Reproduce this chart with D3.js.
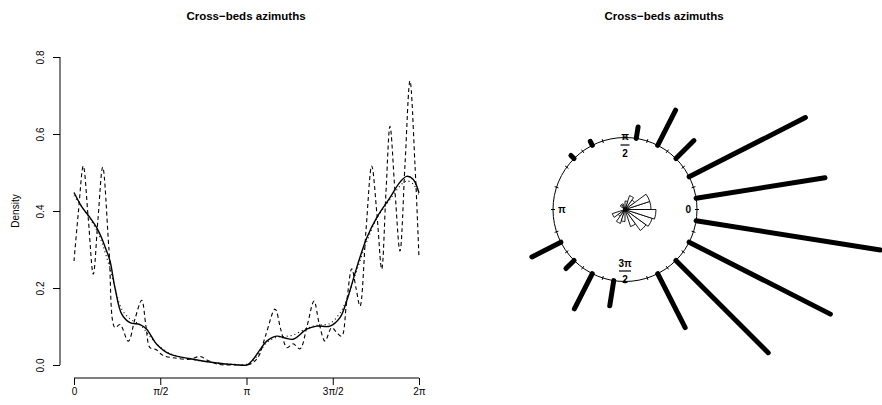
<!DOCTYPE html>
<html><head><meta charset="utf-8">
<script src="https://cdn.jsdelivr.net/npm/d3@7"></script>
<style>
body{margin:0;background:#fff}
text{font-family:"Liberation Sans",Arial,Helvetica,sans-serif;fill:#000}
</style>
</head><body>
<svg id="c" width="882" height="405"></svg>
<script>
const PI = Math.PI;
const chartTitle = "Cross\u2212beds azimuths";

// ---- left panel: kernel density estimates (angles in radians) ----
const dashedAngles = [0.000,0.082,0.169,0.260,0.351,0.437,0.523,0.637,0.747,0.838,0.989,1.111,1.233,1.311,1.384,1.493,1.621,1.839,2.113,2.295,2.440,2.623,2.932,3.205,3.351,3.497,3.661,3.770,3.879,3.989,4.116,4.243,4.371,4.462,4.571,4.693,4.781,4.875,4.963,5.058,5.136,5.209,5.318,5.422,5.518,5.604,5.682,5.755,5.846,5.937,6.028,6.119,6.210,6.283];
const dashedDensity = [0.270,0.400,0.517,0.380,0.236,0.380,0.514,0.300,0.097,0.105,0.062,0.120,0.168,0.100,0.045,0.040,0.025,0.018,0.015,0.022,0.012,0.002,0.000,0.002,0.020,0.080,0.145,0.090,0.045,0.055,0.042,0.100,0.166,0.110,0.062,0.097,0.085,0.075,0.160,0.250,0.200,0.153,0.350,0.517,0.390,0.249,0.450,0.620,0.450,0.296,0.520,0.738,0.520,0.279];

const smoothAngles = [0,0.146,0.291,0.413,0.504,0.583,0.656,0.747,0.869,1.020,1.202,1.324,1.506,1.748,2.167,2.568,2.932,3.151,3.265,3.388,3.510,3.692,3.843,3.994,4.238,4.420,4.662,4.844,4.966,5.149,5.331,5.513,5.755,5.937,6.059,6.179,6.283];
const solidDensity = [0.448,0.410,0.383,0.357,0.330,0.300,0.270,0.200,0.132,0.110,0.105,0.093,0.054,0.028,0.015,0.006,0.001,0.000,0.015,0.040,0.062,0.075,0.070,0.067,0.093,0.101,0.101,0.123,0.166,0.253,0.330,0.383,0.435,0.475,0.490,0.482,0.447];
const dottedDensity = [0.440,0.410,0.380,0.350,0.320,0.285,0.250,0.200,0.145,0.120,0.105,0.085,0.055,0.030,0.014,0.006,0.002,0.002,0.012,0.035,0.058,0.072,0.074,0.078,0.095,0.103,0.108,0.135,0.170,0.245,0.320,0.380,0.430,0.465,0.478,0.470,0.440];

const yTicks = [0, 0.2, 0.4, 0.6, 0.8];
const xTicks = [0, PI/2, PI, 3*PI/2, 2*PI];
const xTickLabels = ["0", "\u03c0/2", "\u03c0", "3\u03c0/2", "2\u03c0"];

// ---- right panel: stacked counts per 18-degree bin (bin centres in degrees) ----
const binCenters = [9,27,45,63,81,117,135,207,225,243,261,297,315,333,351];
const binCounts  = [19,19,4,6,2,1,1,5,2,6,4,9,19,23,27];
const binWidthDeg = 18;
const circleTickDeg = d3.range(0, 360, 18);

const svg = d3.select("#c");

// ================= LEFT PANEL =================
const x = d3.scaleLinear().domain([0, 2*PI]).range([74, 419]);
const y = d3.scaleLinear().domain([0, 0.8]).range([365, 57]);
const axisY = 378, axisX = 60;

svg.append("text").attr("x", 246).attr("y", 20).attr("text-anchor","middle")
  .attr("font-size", 11.5).attr("font-weight","bold").text(chartTitle);

// y axis
const gy = svg.append("g").attr("transform", `translate(${axisX},0)`)
  .call(d3.axisLeft(y).tickValues(yTicks).tickSize(7).tickSizeOuter(0).tickFormat(d3.format(".1f")));
gy.select(".domain").remove();
gy.append("line").attr("x1",0).attr("x2",0).attr("y1",y(yTicks[0])).attr("y2",y(yTicks[yTicks.length-1])).attr("stroke","#000");
gy.selectAll(".tick line").attr("stroke","#000");
gy.selectAll(".tick text").attr("font-size",10).attr("font-family","Liberation Sans, Arial, sans-serif")
  .attr("fill","#000").attr("text-anchor","middle").attr("dy",null)
  .attr("transform","rotate(-90)").attr("x",0).attr("y",-16);
svg.append("text").attr("transform",`translate(19,${(y(0)+y(0.8))/2}) rotate(-90)`)
  .attr("text-anchor","middle").attr("font-size",10).text("Density");

// x axis
const gx = svg.append("g").attr("transform", `translate(0,${axisY})`)
  .call(d3.axisBottom(x).tickValues(xTicks).tickSize(7).tickSizeOuter(0).tickFormat((d,i)=>xTickLabels[i]));
gx.select(".domain").remove();
gx.append("line").attr("x1",x(0)).attr("x2",x(2*PI)).attr("y1",0).attr("y2",0).attr("stroke","#000");
gx.selectAll(".tick line").attr("stroke","#000");
gx.selectAll(".tick text").attr("font-size",10).attr("font-family","Liberation Sans, Arial, sans-serif")
  .attr("fill","#000").attr("y",17).attr("dy",null);

const line = d3.line().x(d=>x(d[0])).y(d=>y(d[1])).curve(d3.curveCatmullRom.alpha(0.5));
svg.append("path").datum(dashedAngles.map((a,i)=>[a,dashedDensity[i]]))
  .attr("d",line).attr("fill","none").attr("stroke","#000").attr("stroke-width",1.1).attr("stroke-dasharray","4,3");
svg.append("path").datum(smoothAngles.map((a,i)=>[a,dottedDensity[i]]))
  .attr("d",line).attr("fill","none").attr("stroke","#000").attr("stroke-width",1.1).attr("stroke-dasharray","1,3");
svg.append("path").datum(smoothAngles.map((a,i)=>[a,solidDensity[i]]))
  .attr("d",line).attr("fill","none").attr("stroke","#000").attr("stroke-width",1.4);

// ================= RIGHT PANEL =================
const cx = 625, cy = 209.5, R = 72;
svg.append("text").attr("x", 664).attr("y", 20).attr("text-anchor","middle")
  .attr("font-size", 11.5).attr("font-weight","bold").text(chartTitle);

const g = svg.append("g").attr("transform",`translate(${cx},${cy})`);
const toRad = d3.scaleLinear().domain([0,360]).range([0,2*PI]);
const px = (deg,r)=> r*Math.cos(toRad(deg));
const py = (deg,r)=> -r*Math.sin(toRad(deg));

g.append("circle").attr("r",R).attr("fill","none").attr("stroke","#000").attr("stroke-width",1);
g.selectAll("line.tick").data(circleTickDeg).enter().append("line")
  .attr("x1",d=>px(d,R-2)).attr("y1",d=>py(d,R-2)).attr("x2",d=>px(d,R+2)).attr("y2",d=>py(d,R+2))
  .attr("stroke","#000").attr("stroke-width",1);

// stacked spikes
const stack = d3.scaleLinear().domain([0,1]).range([R, R+7]);
g.selectAll("line.spike").data(binCenters).enter().append("line")
  .attr("x1",d=>px(d,R)).attr("y1",d=>py(d,R))
  .attr("x2",(d,i)=>px(d,stack(binCounts[i])-2.5)).attr("y2",(d,i)=>py(d,stack(binCounts[i])-2.5))
  .attr("stroke","#000").attr("stroke-width",5).attr("stroke-linecap","round");

// rose diagram
const rose = d3.scaleSqrt().domain([0, d3.max(binCounts)]).range([0, 31]);
const arc = d3.arc().innerRadius(0);
g.selectAll("path.rose").data(binCenters).enter().append("path")
  .attr("d",(d,i)=>arc({outerRadius:rose(binCounts[i]),
      startAngle: PI/2 - toRad(d + binWidthDeg/2), endAngle: PI/2 - toRad(d - binWidthDeg/2)}))
  .attr("fill","#fff").attr("stroke","#000").attr("stroke-width",0.9);
g.append("circle").attr("r",2).attr("fill","#000");

// circle labels
const lab = (t,xx,yy,a)=> g.append("text").attr("x",xx).attr("y",yy).attr("text-anchor",a||"middle")
  .attr("font-size",10).attr("font-weight","bold").text(t);
lab("0", 63.3, 3.6);
lab("\u03c0", -63.3, 3.6);
lab("\u03c0", 0, -70);
g.append("line").attr("x1",-4.5).attr("x2",4.5).attr("y1",-64.5).attr("y2",-64.5).attr("stroke","#000").attr("stroke-width",1.2);
lab("2", 0, -53);
lab("3\u03c0", 0, 57);
g.append("line").attr("x1",-6).attr("x2",6).attr("y1",61.5).attr("y2",61.5).attr("stroke","#000").attr("stroke-width",1.2);
lab("2", 0, 73);
</script>
</body></html>
